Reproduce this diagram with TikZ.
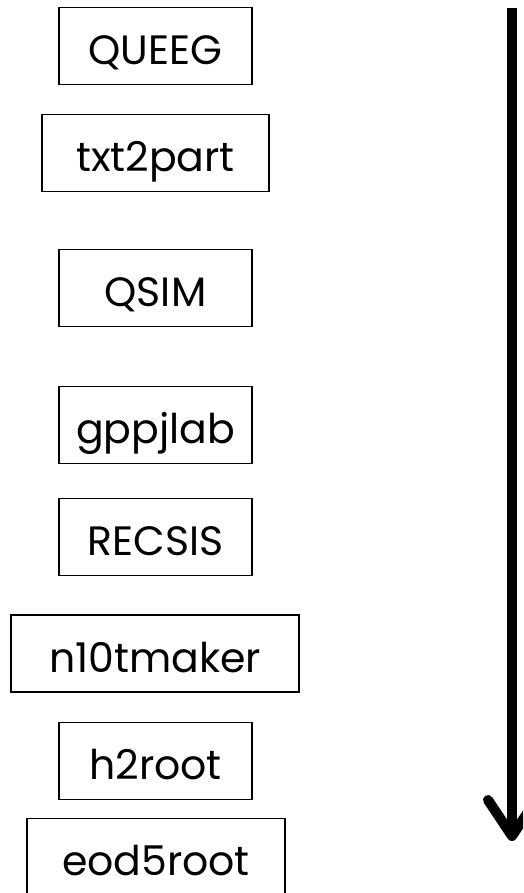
\documentclass[tikz,border=0pt]{standalone}
\usepackage{fontspec}
\setmainfont{Poppins}
\usetikzlibrary{arrows.meta}
\begin{document}
\begin{tikzpicture}[x=1pt,y=1pt,
  stepbox/.style={draw=black, line width=1.4pt, inner sep=0pt, text height=57pt, text depth=20pt, font=\fontsize{41}{44}\selectfont, anchor=center},
  flowarrow/.style={line width=10pt, -{Straight Barb[length=36pt,width=48pt,round]}}]
\useasboundingbox (0,0) rectangle (523,-893);
\begin{scope}
\clip (0,0) rectangle (523,-893);
\node[stepbox, minimum width=193pt] (queeg) at (155.5,-46) {QUEEG};
\node[stepbox, minimum width=227pt] (txt) at (155.5,-153) {txt2part};
\node[stepbox, minimum width=193pt] (qsim) at (155.5,-288) {QSIM};
\node[stepbox, minimum width=193pt] (gpp) at (155.5,-425) {gppjlab};
\node[stepbox, minimum width=193pt] (rec) at (155.5,-537) {RECSIS};
\node[stepbox, minimum width=288pt] (n10) at (155,-653.5) {n10tmaker};
\node[stepbox, minimum width=193pt] (h2r) at (155.5,-761) {h2root};
\node[stepbox, minimum width=258pt] (eod) at (156,-857) {eod5root};
\coordinate (atop) at (512,-8);
\coordinate (abot) at (512,-841);
\draw[flowarrow] (atop) -- (abot);
\end{scope}
\end{tikzpicture}
\end{document}
